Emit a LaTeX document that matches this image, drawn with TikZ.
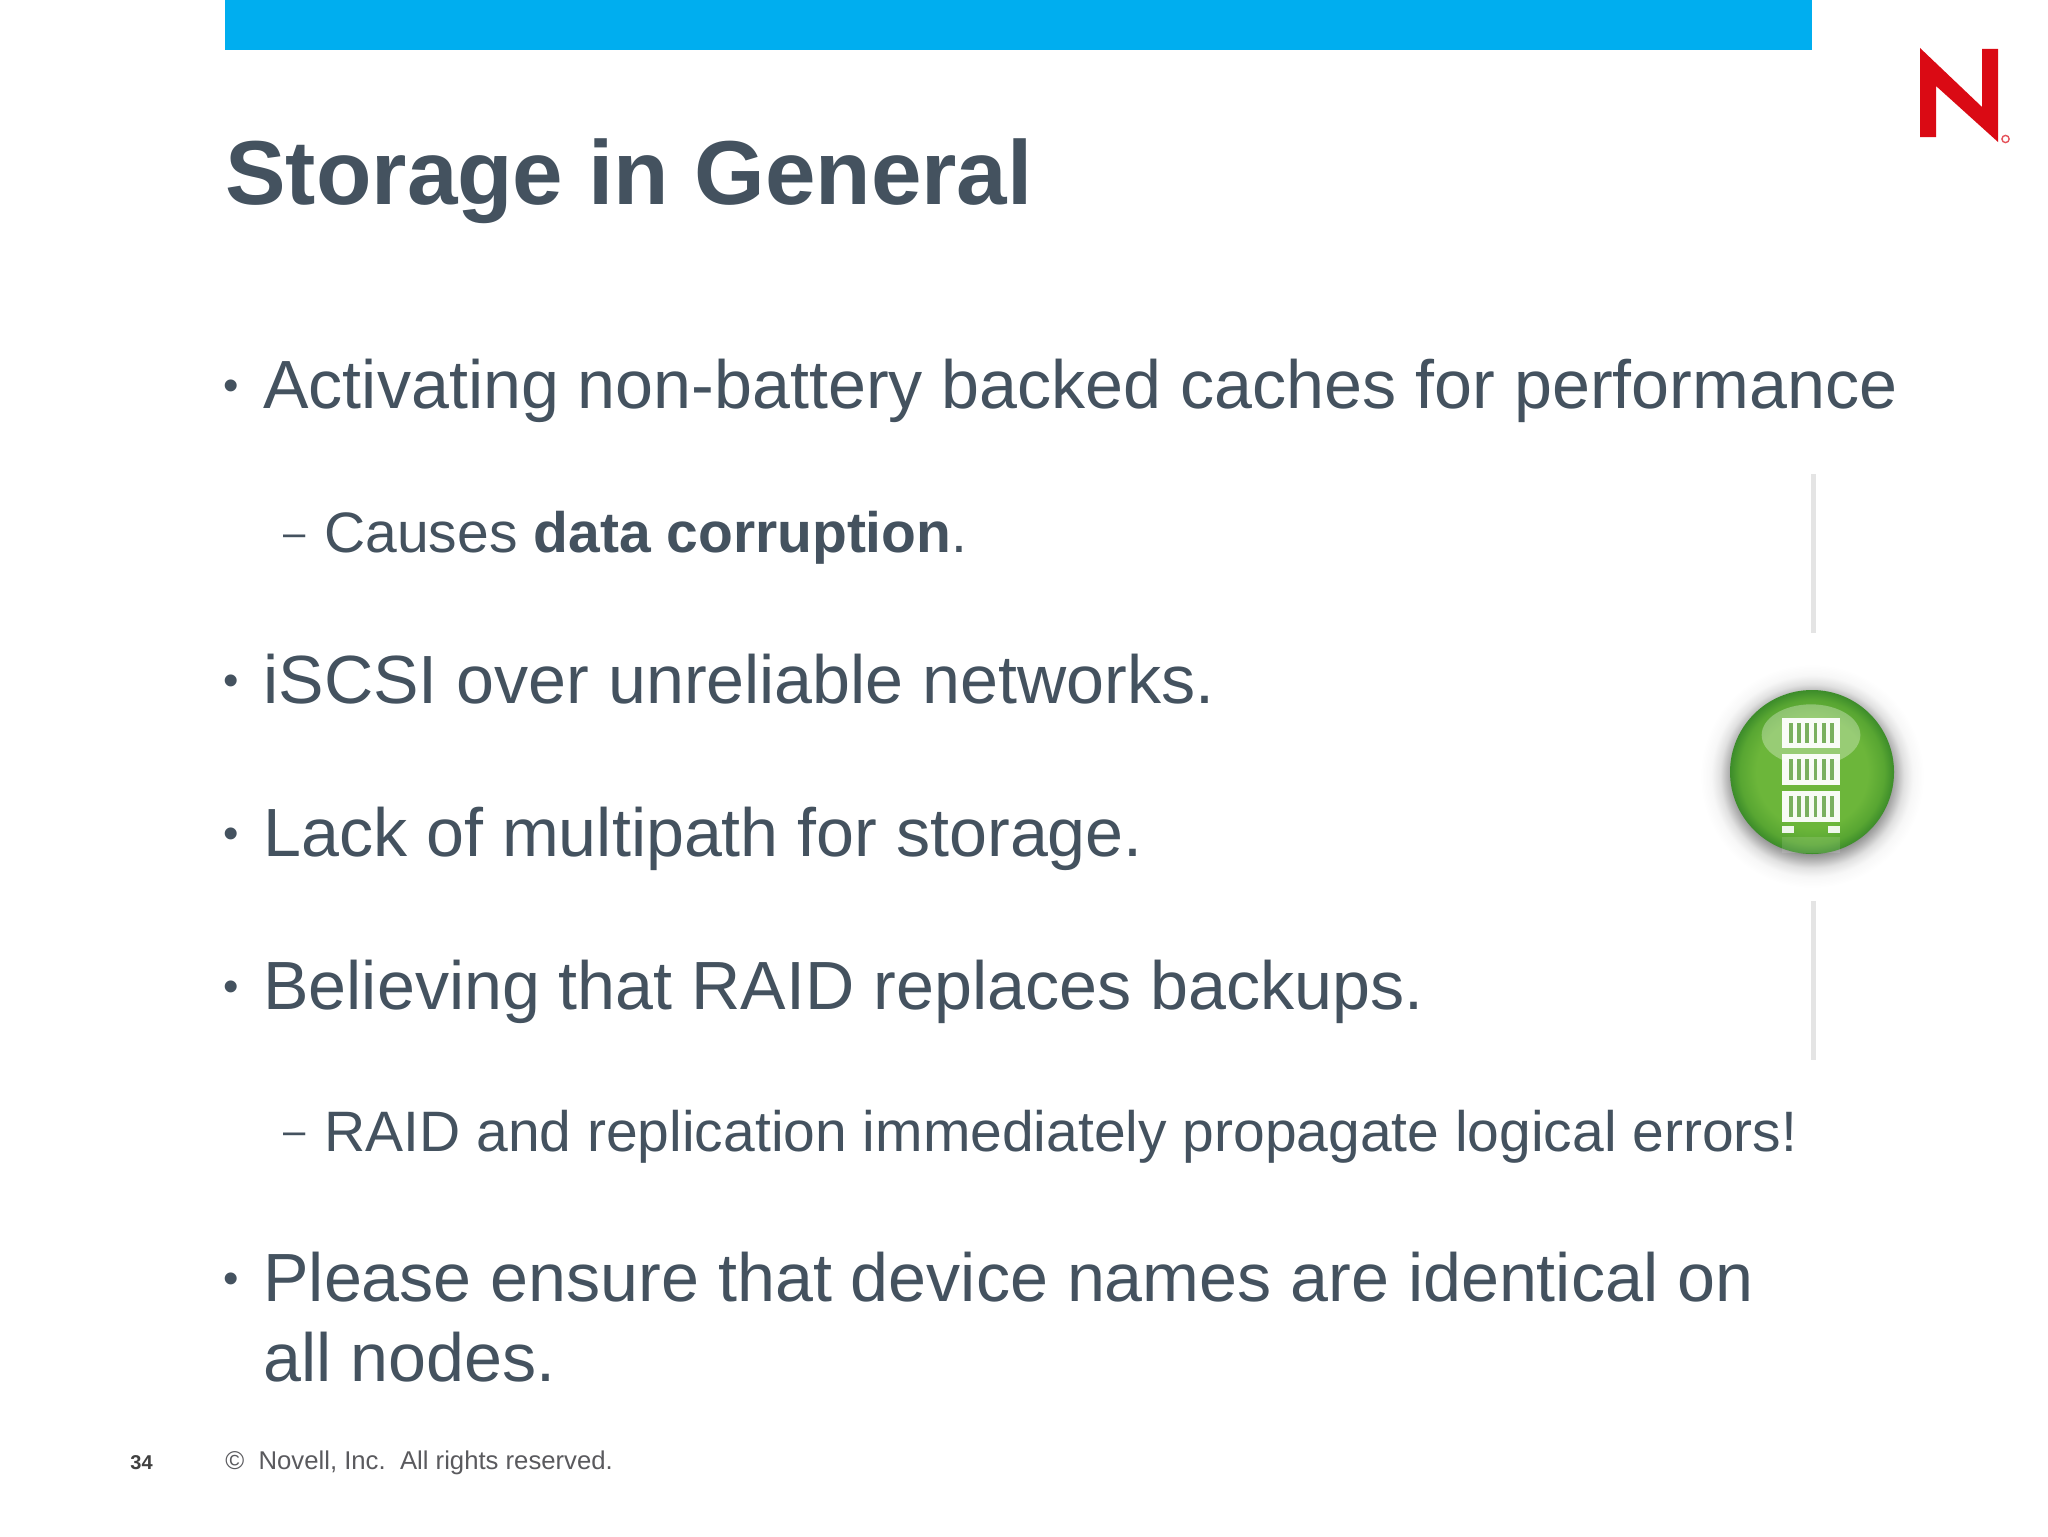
\documentclass[tikz,border=0pt]{standalone}
\usepackage{fontspec}
\setmainfont{Liberation Sans}
\definecolor{slate}{HTML}{44525F}
\definecolor{barblue}{HTML}{00AEEF}
\definecolor{novred}{HTML}{DA0A14}
\definecolor{rule}{HTML}{E4E4E4}
\definecolor{foot}{HTML}{5A5A5E}
\definecolor{ballA}{HTML}{6CB63A}
\definecolor{ballB}{HTML}{58A632}
\definecolor{ballC}{HTML}{3C8C2A}
\definecolor{slot}{HTML}{7AB05F}
\pgfdeclareradialshading{ballgreen}{\pgfpointorigin}{color(0bp)=(ballA);color(17bp)=(ballA);color(22bp)=(ballB);color(25bp)=(ballC);color(50bp)=(ballC)}
\pgfdeclareradialshading{softshadow}{\pgfpointorigin}{color(0bp)=(black!55);color(16bp)=(black!55);color(18.5bp)=(black!32);color(20.5bp)=(black!12);color(22.5bp)=(black!3);color(25bp)=(white);color(50bp)=(white)}
\tikzset{
  title/.style={anchor=base west,inner sep=0pt,text=slate,font=\fontsize{45.4}{54}\selectfont\bfseries},
  lvlone/.style={anchor=base west,inner sep=0pt,text=slate,font=\fontsize{34.1}{40}\selectfont},
  lvltwo/.style={anchor=base west,inner sep=0pt,text=slate,font=\fontsize{28.5}{34}\selectfont},
  bulletmark/.style={anchor=base west,inner sep=0pt,text=slate,font=\fontsize{22}{26}\selectfont},
  dashmark/.style={anchor=base west,inner sep=0pt,text=slate,font=\fontsize{20}{24}\selectfont},
  footer/.style={anchor=base west,inner sep=0pt,text=foot,font=\fontsize{12.85}{16}\selectfont},
}
\begin{document}
\begin{tikzpicture}[x=.5pt,y=-.5pt]
\useasboundingbox (0,0) rectangle (2048,1536);
\fill[white] (0,0) rectangle (2048,1536);
\fill[barblue] (225,0) rectangle (1812,50);
% logo
\fill[novred] (1920,48) -- (1982,107) -- (1982,49) -- (1998,49) -- (1998,142) -- (1936,86) -- (1936,137) -- (1920,137) -- cycle;
\draw[novred!70,line width=.7pt] (2005.5,139) circle (3.6);
% title
\node[title] (t) at (225,204) {Storage in General};
% bullets
\node[bulletmark] (b1) at (223.5,400) {•}; \node[lvlone] (l1) at (263,408) {Activating non-battery backed caches for performance};
\node[dashmark] (d1) at (283,546) {–}; \node[lvltwo] (s1) at (324,552) {Causes \textbf{data corruption}.};
\node[bulletmark] (b2) at (223.5,695) {•}; \node[lvlone] (l2) at (263,703) {iSCSI over unreliable networks.};
\node[bulletmark] (b3) at (223.5,848) {•}; \node[lvlone] (l3) at (263,856) {Lack of multipath for storage.};
\node[bulletmark] (b4) at (223.5,1001) {•}; \node[lvlone] (l4) at (263,1009) {Believing that RAID replaces backups.};
\node[dashmark] (d2) at (283,1144) {–}; \node[lvltwo] (s2) at (324,1151) {RAID and replication immediately propagate logical errors!};
\node[bulletmark] (b5) at (223.5,1293) {•}; \node[lvlone] (l5) at (263,1301) {Please ensure that device names are identical on};
\node[lvlone] (l6) at (263,1381) {all nodes.};
% footer
\node[anchor=base west,inner sep=0pt,text=black!75,font=\fontsize{10}{12}\selectfont\bfseries] (pg) at (130,1469) {34};
\node[footer] (c) at (225,1469) {©\ \ Novell, Inc.\ \ All rights reserved.};
% rules
\fill[rule] (1811,474) rectangle (1816,633);
\fill[rule] (1811,901) rectangle (1816,1060);
% icon
\shade[shading=softshadow] (1812,776) circle (112);
\shade[shading=ballgreen] (1812,772) circle (82);
\begin{scope}[shift={(1680,660)},x=.16667pt,y=-.16667pt]
  \fill[white,opacity=.3] (393,225) ellipse (148 and 92);
  \foreach \t/\b in {175/265,282/375,392/485}{
    \fill[white,opacity=.95] (307,\t) rectangle (480,\b);
    \foreach \xx in {327,351.6,376.2,400.8,425.4,450}{
      \fill[slot] (\xx,\t+15) rectangle (\xx+11,\b-15);
    }
  }
  \fill[white,opacity=.9] (307,497) rectangle (343,520);
  \fill[white,opacity=.9] (445,497) rectangle (480,520);
  \fill[white,opacity=.12] (307,530) rectangle (480,578);
\end{scope}
\end{tikzpicture}
\end{document}
